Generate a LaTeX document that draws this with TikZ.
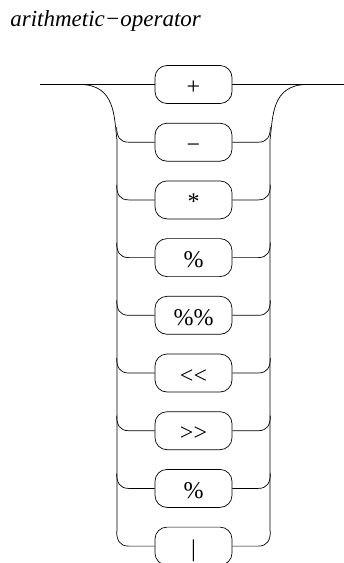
\documentclass[tikz,border=0pt]{standalone}
\usepackage{fontspec}
\setmainfont{Liberation Serif}
\usetikzlibrary{positioning,calc}

\begin{document}
\begin{tikzpicture}[x=1pt,y=-1pt,line width=0.7pt,
    term/.style={draw, rounded corners=12pt, minimum width=77pt, minimum height=38pt,
      inner sep=0pt, text height=20pt, text depth=0pt, font=\fontsize{24}{28}\selectfont}]
    \useasboundingbox (0,0) rectangle (344,563);
    % Title
    \node[anchor=base west, inner sep=0pt, font=\fontsize{23}{27}\selectfont\itshape] (title) at (10,26) {arithmetic−operator};

    % Alternatives
    \foreach \sym [count=\i from 0] in {+,−,*,\%,\%\%,<{}<,>{}>,\%,|} {
        \node[term] (b\i) at (193.5,84.5+57.7*\i) {\sym};
    }

    % Main line
    \coordinate (start) at (40,84.5);
    \coordinate (end) at (344,84.5);
    \draw (start) -- (b0.west);
    \draw (b0.east) -- (end);

    % Rails
    \coordinate (lsplit) at (80,84.5);
    \coordinate (ltop) at (117,140);
    \coordinate (lbot) at (117,531);
    \coordinate (rsplit) at (307,84.5);
    \coordinate (rtop) at (270,140);
    \coordinate (rbot) at (270,531);
    \draw (lsplit) .. controls (116,84.5) and (114,118) .. (ltop) -- (lbot);
    \draw (rsplit) .. controls (271,84.5) and (273,118) .. (rtop) -- (rbot);

    % Branches
    \foreach \i in {1,...,8} {
        \draw (b\i.west) -- ++(-26,0) .. controls +(-9,0) and +(0,9) .. ++(-12,-15);
        \draw (b\i.east) -- ++(26,0) .. controls +(9,0) and +(0,9) .. ++(12,-15);
    }
\end{tikzpicture}
\end{document}
